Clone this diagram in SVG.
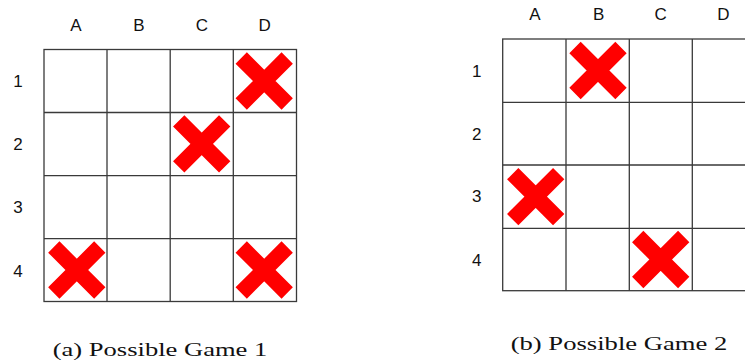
<svg xmlns="http://www.w3.org/2000/svg" xmlns:xlink="http://www.w3.org/1999/xlink" width="745" height="360" viewBox="0 0 745 360">
<style>
.grid{fill:none;stroke:#3a3a3a;stroke-width:1.3}
.lbl{font-family:"Liberation Sans",Arial,sans-serif;font-size:17px;fill:#111;text-anchor:middle}
.cap{font-family:"Liberation Serif","DejaVu Serif",serif;font-size:19px;fill:#111}
.x{stroke:#ff0000;stroke-width:16;stroke-linecap:butt;fill:none}
</style>
<defs>
<g id="cross"><path class="x" d="M-23,-23L23,23M-23,23L23,-23"/></g>
</defs>
<rect width="745" height="360" fill="#fff"/>
<g id="game1">
<g id="grid1">
<rect class="grid" x="44" y="49.5" width="252.5" height="252"/>
<path class="grid" d="M107,49.5V301.5M170.2,49.5V301.5M233.3,49.5V301.5M44,112.5H296.5M44,175.7H296.5M44,238.7H296.5"/>
</g>
<g id="labels1">
<text class="lbl" x="76" y="30.7">A</text>
<text class="lbl" x="139" y="30.7">B</text>
<text class="lbl" x="202" y="30.7">C</text>
<text class="lbl" x="264.7" y="30.7">D</text>
<text class="lbl" x="18" y="87.3">1</text>
<text class="lbl" x="18" y="150.3">2</text>
<text class="lbl" x="18" y="213.3">3</text>
<text class="lbl" x="18" y="276.5">4</text>
</g>
<g id="marks1">
<use xlink:href="#cross" x="264.2" y="81"/>
<use xlink:href="#cross" x="201.7" y="143.8"/>
<use xlink:href="#cross" x="76.8" y="270"/>
<use xlink:href="#cross" x="264.2" y="270"/>
</g>
<text id="caption1" class="cap" x="52.7" y="356" textLength="214.6" lengthAdjust="spacingAndGlyphs">(a) Possible Game 1</text>
</g>
<g id="game2">
<g id="grid2">
<rect class="grid" x="502.7" y="39" width="253" height="251.7"/>
<path class="grid" d="M566,39V290.7M629.3,39V290.7M692.3,39V290.7M502.7,102.3H755.7M502.7,165H755.7M502.7,228.3H755.7"/>
</g>
<g id="labels2">
<text class="lbl" x="535" y="20">A</text>
<text class="lbl" x="598.7" y="20">B</text>
<text class="lbl" x="660.7" y="20">C</text>
<text class="lbl" x="723.3" y="20">D</text>
<text class="lbl" x="476.7" y="76.7">1</text>
<text class="lbl" x="476.7" y="139.7">2</text>
<text class="lbl" x="476.7" y="202.4">3</text>
<text class="lbl" x="476.7" y="265.5">4</text>
</g>
<g id="marks2">
<use xlink:href="#cross" x="598" y="70.5"/>
<use xlink:href="#cross" x="535.7" y="196.7"/>
<use xlink:href="#cross" x="660.7" y="259.5"/>
</g>
<text id="caption2" class="cap" x="510.7" y="350" textLength="216.6" lengthAdjust="spacingAndGlyphs">(b) Possible Game 2</text>
</g>
</svg>
